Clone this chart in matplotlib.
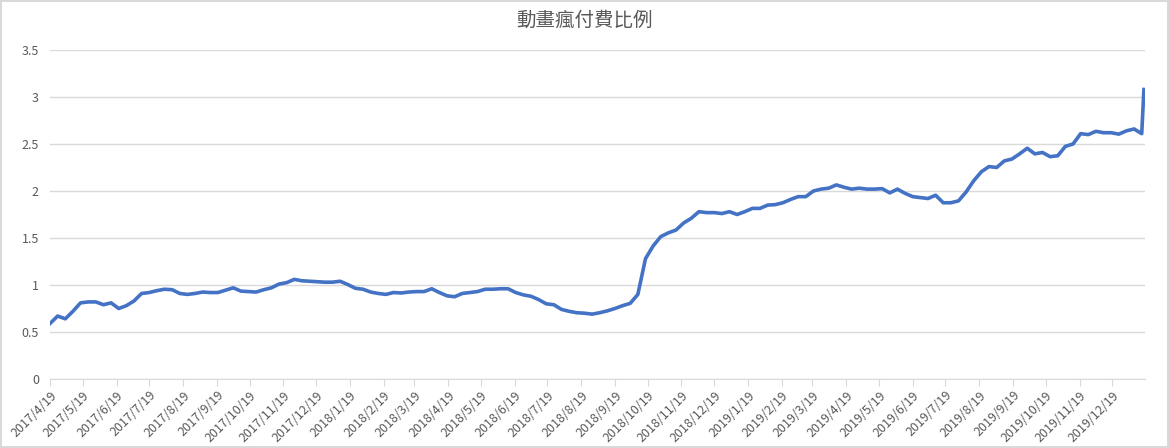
import matplotlib
matplotlib.use("Agg")
from matplotlib import pyplot as plt
import matplotlib.dates as mdates
import pandas as pd

plt.rcParams["font.family"] = ["Noto Sans CJK TC", "DejaVu Sans"]

TITLE = "動畫瘋付費比例"
START = "2017-04-19"

# weekly readings, starting 2017/4/19
weekly_ratio = [
    0.59, 0.67, 0.64, 0.72, 0.81, 0.82, 0.82, 0.79, 0.81, 0.75,
    0.78, 0.83, 0.91, 0.92, 0.94, 0.955, 0.95, 0.91, 0.90, 0.91,
    0.925, 0.92, 0.92, 0.945, 0.97, 0.935, 0.93, 0.925, 0.95, 0.97,
    1.01, 1.025, 1.06, 1.045, 1.04, 1.035, 1.03, 1.03, 1.04, 1.005,
    0.965, 0.955, 0.925, 0.91, 0.90, 0.92, 0.915, 0.925, 0.93, 0.93,
    0.96, 0.92, 0.885, 0.875, 0.91, 0.92, 0.93, 0.955, 0.955, 0.96,
    0.96, 0.92, 0.895, 0.88, 0.845, 0.80, 0.79, 0.74, 0.72, 0.705,
    0.70, 0.69, 0.705, 0.725, 0.75, 0.78, 0.805, 0.90, 1.28, 1.415,
    1.515, 1.555, 1.585, 1.66, 1.71, 1.78, 1.77, 1.77, 1.76, 1.78,
    1.75, 1.78, 1.815, 1.815, 1.85, 1.855, 1.875, 1.91, 1.94, 1.94,
    2.00, 2.02, 2.03, 2.065, 2.04, 2.02, 2.03, 2.02, 2.02, 2.025,
    1.98, 2.02, 1.975, 1.94, 1.93, 1.92, 1.955, 1.875, 1.875, 1.895,
    1.99, 2.11, 2.205, 2.26, 2.25, 2.32, 2.34, 2.395, 2.455, 2.395,
    2.41, 2.365, 2.375, 2.475, 2.50, 2.61, 2.60, 2.635, 2.62, 2.62,
    2.605, 2.64, 2.66, 2.61,
]
# final jump
tail_dates = ["2020-01-17"]
tail_ratio = [3.08]

y_ticks = [0, 0.5, 1, 1.5, 2, 2.5, 3, 3.5]
y_tick_labels = ["0", "0.5", "1", "1.5", "2", "2.5", "3", "3.5"]

GREY_TEXT = "#595959"
GRID = "#D9D9D9"
LINE = "#4472C4"


def build_series() -> pd.Series:
    dates = pd.date_range(START, periods=len(weekly_ratio), freq="7D")
    s = pd.Series(weekly_ratio, index=dates)
    tail = pd.Series(tail_ratio, index=pd.to_datetime(tail_dates))
    return pd.concat([s, tail])


def plot(series: pd.Series):
    fig = plt.figure(figsize=(11.69, 4.48), dpi=100)
    fig.patch.set_edgecolor(GRID)
    fig.patch.set_linewidth(1.5)
    ax = fig.add_axes([50 / 1169, 69 / 448, 1095 / 1169, 329 / 448])

    ax.plot(series.index, series.values, color=LINE, linewidth=2.6,
            solid_joinstyle="round")

    ax.set_ylim(0, 3.5)
    ax.set_yticks(y_ticks)
    ax.set_yticklabels(y_tick_labels)
    ax.set_xlim(pd.Timestamp(START), pd.Timestamp("2020-01-18"))

    month_ticks = pd.date_range(START, "2019-12-19", freq="MS") + pd.Timedelta(days=18)
    month_ticks = [pd.Timestamp(START)] + [d for d in month_ticks if d > pd.Timestamp(START)]
    ax.set_xticks(month_ticks)
    ax.set_xticklabels([f"{d.year}/{d.month}/{d.day}" for d in month_ticks],
                       rotation=45, ha="right", rotation_mode="anchor")

    ax.grid(axis="y", color=GRID, linewidth=1)
    ax.set_axisbelow(True)
    for side in ["top", "right", "left"]:
        ax.spines[side].set_visible(False)
    ax.spines["bottom"].set_color(GRID)
    ax.tick_params(axis="y", length=0, labelsize=9, colors=GREY_TEXT, pad=8)
    ax.tick_params(axis="x", length=5, color=GRID, labelsize=9,
                   labelcolor=GREY_TEXT, pad=2)

    fig.text(0.5, 0.955, TITLE, ha="center", va="center",
             fontsize=14, color=GREY_TEXT)

    fig.savefig("out.png", dpi=100)


if __name__ == "__main__":
    plot(build_series())
